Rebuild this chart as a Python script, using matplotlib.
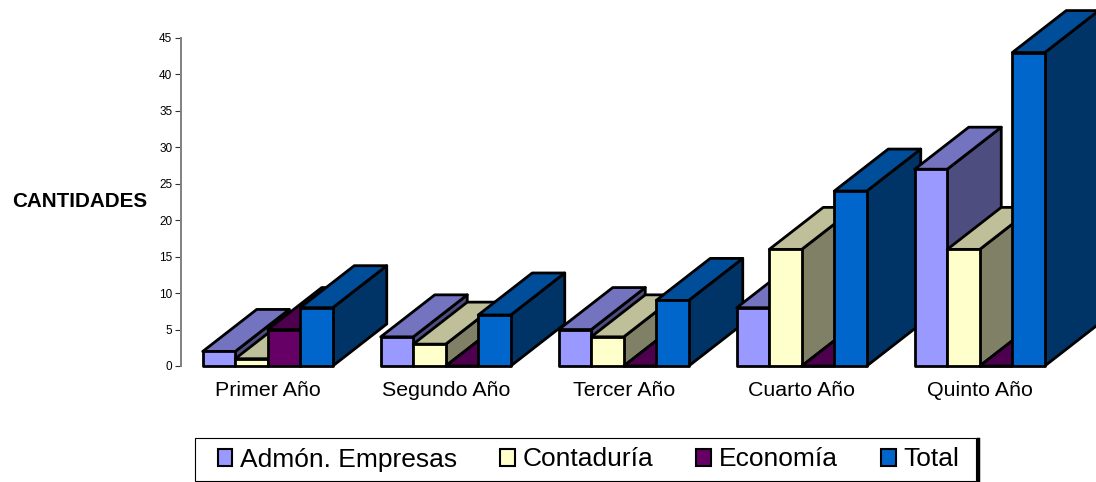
import matplotlib
matplotlib.use("Agg")
import matplotlib.pyplot as plt
from matplotlib.patches import Polygon, Patch, Rectangle
from matplotlib.lines import Line2D

plt.rcParams['font.family'] = ['Liberation Sans', 'DejaVu Sans']

years = ["Primer Año", "Segundo Año", "Tercer Año", "Cuarto Año", "Quinto Año"]
series_names = ["Admón. Empresas", "Contaduría", "Economía", "Total"]
admon = [2, 4, 5, 8, 27]
contaduria = [1, 3, 4, 16, 16]
economia = [5, 0, 0, 0, 0]
total = [8, 7, 9, 24, 43]
y_ticks = [0, 5, 10, 15, 20, 25, 30, 35, 40, 45]

front_colors = ["#9999FF", "#FFFFCC", "#660066", "#0066CC"]
top_colors = ["#7373BF", "#BFBF99", "#4D004D", "#004D99"]
side_colors = ["#4D4D80", "#808066", "#330033", "#003366"]

W, H = 1096, 482
fig = plt.figure(figsize=(W / 100, H / 100), dpi=100)
ax = fig.add_axes([181 / W, 1 - 366 / H, 890 / W, 328 / H])
ax.set_xlim(-86.75 / 178, 803.25 / 178)
ax.set_ylim(0, 45)

bar_w = 32.5 / 178
depth_x = 54 / 178
depth_y = 42 / (328 / 45)


def draw_bar(x, h, i):
    # lado, tapa y frente de la barra 3D
    x2 = x + bar_w
    faces = [
        ([(x2, 0), (x2 + depth_x, depth_y), (x2 + depth_x, h + depth_y), (x2, h)], side_colors[i]),
        ([(x, h), (x + depth_x, h + depth_y), (x2 + depth_x, h + depth_y), (x2, h)], top_colors[i]),
        ([(x, 0), (x2, 0), (x2, h), (x, h)], front_colors[i]),
    ]
    for pts, color in faces:
        ax.add_patch(Polygon(pts, closed=True, facecolor=color, edgecolor="black",
                             linewidth=2, joinstyle="round", clip_on=False))


all_series = [admon, contaduria, economia, total]
for g in range(len(years)):
    for i, values in enumerate(all_series):
        draw_bar(g - 2 * bar_w + i * bar_w, values[g], i)

for s in ["top", "right", "bottom"]:
    ax.spines[s].set_visible(False)
ax.spines["left"].set_color("#808080")
ax.spines["left"].set_linewidth(1.4)
ax.patch.set_alpha(0)

ax.set_yticks(y_ticks)
ax.tick_params(axis="y", labelsize=8.5, length=4.3, width=0.8, color="#333333", pad=2)
ax.set_xticks(range(len(years)))
ax.set_xticklabels(years, fontsize=15.4)
ax.tick_params(axis="x", length=0, pad=11)

fig.text(79.5 / W, 1 - 201 / H, "CANTIDADES", fontsize=14.9, fontweight="bold",
         ha="center", va="center")

# recuadro de la leyenda y su sombra
fig.add_artist(Rectangle((194.5 / W, 1 - 481 / H), 781 / W, 43 / H, transform=fig.transFigure,
                         facecolor="white", edgecolor="black", linewidth=0.8))
fig.add_artist(Line2D([977.5 / W, 977.5 / W], [1 - 439 / H, 1 - 482 / H], color="black", linewidth=2.5))

handles = [Patch(facecolor=c, edgecolor="black", linewidth=1.5) for c in front_colors]
leg = fig.legend(handles, series_names, ncol=4, loc="center",
                 bbox_to_anchor=(588.5 / W, 1 - 459.5 / H), fontsize=19, frameon=False,
                 handlelength=0.56, handleheight=0.6, handletextpad=0.3,
                 columnspacing=1.62, borderpad=0, borderaxespad=0)

fig.savefig("out.png", dpi=100)
